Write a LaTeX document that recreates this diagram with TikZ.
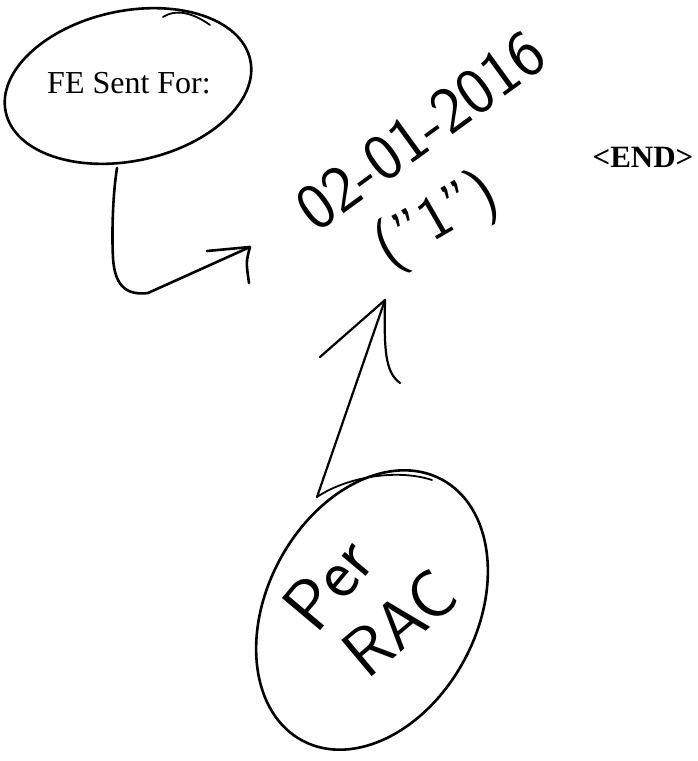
\documentclass[tikz,border=0pt]{standalone}
\usepackage{fontspec}
\setmainfont{Liberation Serif}
\usetikzlibrary{shapes.geometric}
\begin{document}
\begin{tikzpicture}[x=1pt,y=1pt,line cap=round,line join=round,
  pen/.style={line width=2.6pt,black},
  bubble/.style={draw,ellipse,pen,inner sep=0pt},
  hand/.style={font=\fontsize{#1}{#1}\selectfont\sffamily,inner sep=0pt},
  label/.style={font=\fontsize{#1}{#1}\selectfont,inner sep=0pt}]
\useasboundingbox (0,0) rectangle (697,-761);
% top bubble
\node[bubble,minimum width=250pt,minimum height=150pt,rotate=12] (fe) at (128,-86) {};
\draw[pen,line width=1.8pt] (163,-17) .. controls (175,-9) and (192,-12) .. (210,-25);
\node[label=32] (fetext) at (129,-83) {FE Sent For:};
% handwritten date
\node[hand=66,rotate=36] (date) at (421,-131) {02-01-2016};
\node[hand=62,rotate=30] (one) at (437,-222) {("1")};
% end marker
\node[label=31] (end) at (643,-157) {\bfseries <END>};
% bottom bubble
\node[bubble,minimum width=296pt,minimum height=210pt,rotate=62] (pr) at (372,-610) {};
\node[hand=72,rotate=50] (per) at (328,-583) {Per};
\node[hand=68,rotate=40] (rac) at (400,-623) {RAC};
% connector 1
\coordinate (s1) at (117,-168);
\coordinate (t1) at (250,-247);
\draw[pen] (s1) .. controls (112,-200) and (112,-240) .. (113,-258)
  .. controls (115,-290) and (130,-295) .. (148,-293) -- (t1);
\draw[pen] (207,-251) -- (t1) .. controls (246,-262) .. (249,-283);
% connector 2
\coordinate (s2) at (317,-497);
\coordinate (t2) at (385,-300);
\draw[pen,line width=2.2pt] (s2) -- (t2);
\draw[pen,line width=2.2pt] (320,-357) -- (t2) .. controls (384,-350) and (385,-372) .. (400,-383);
\draw[pen,line width=1.8pt] (s2) .. controls (345,-478) and (395,-468) .. (432,-480);
\end{tikzpicture}
\end{document}
